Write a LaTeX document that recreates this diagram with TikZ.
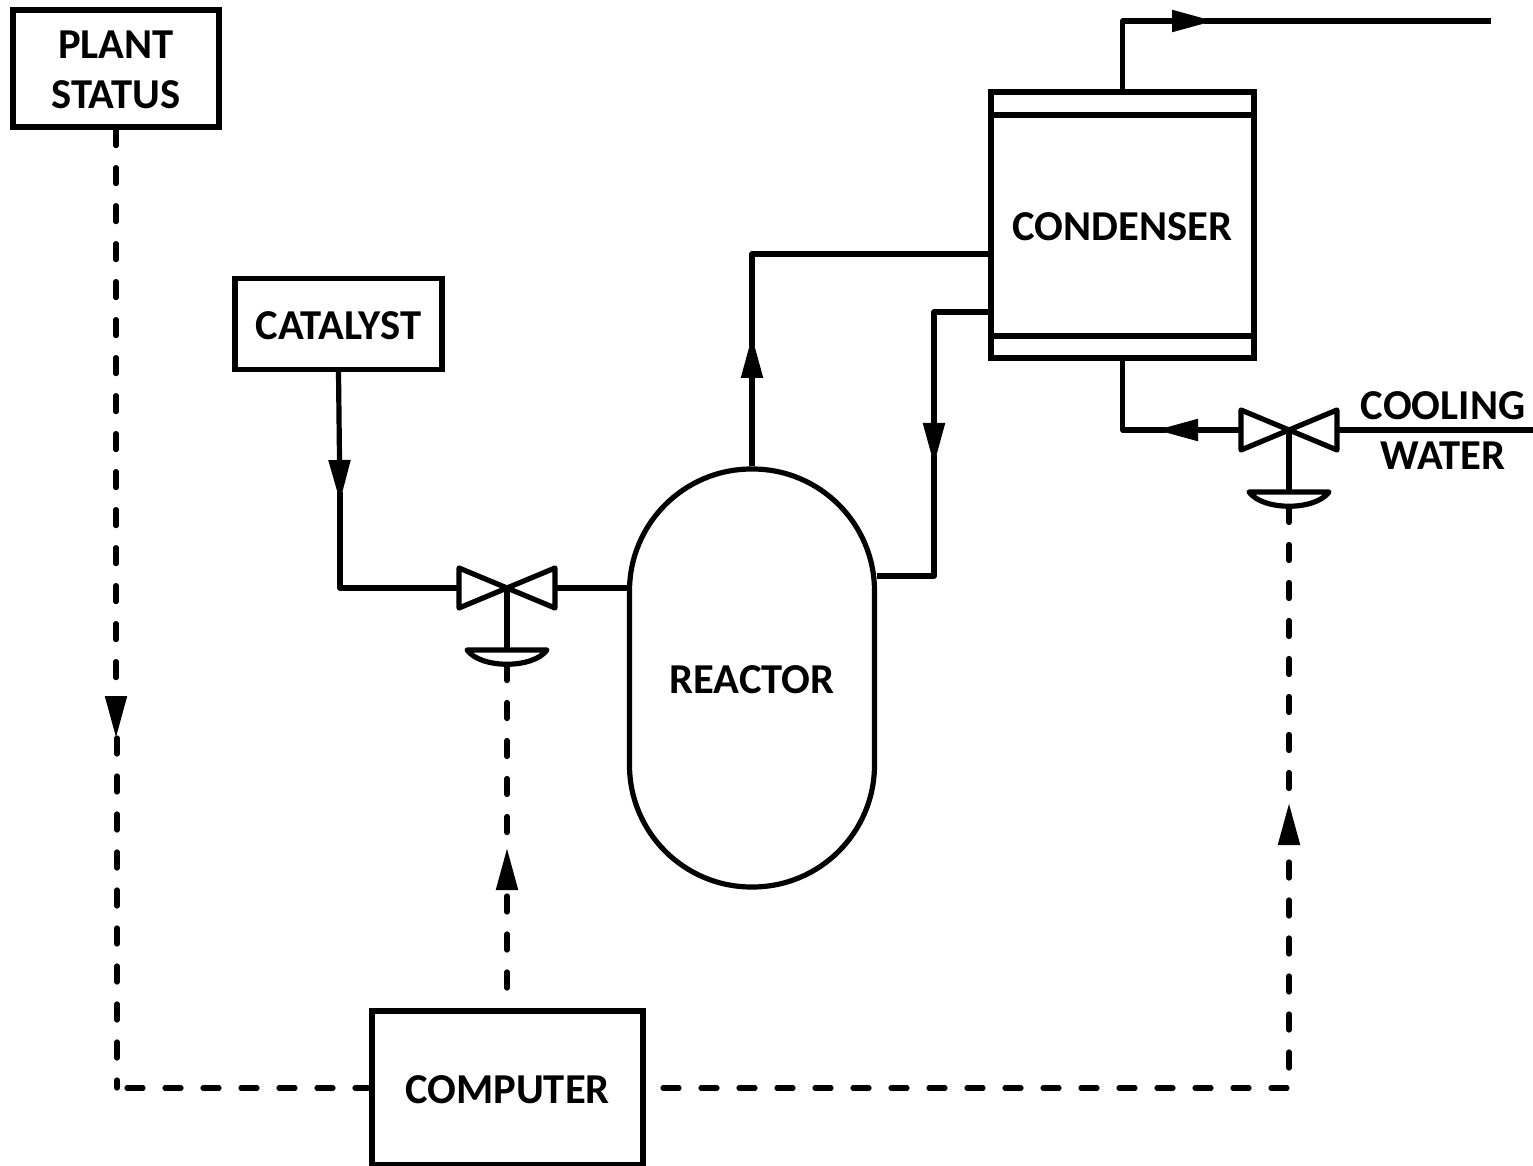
\documentclass[tikz,border=0pt]{standalone}
\usepackage{fontspec}
\setmainfont{Carlito}
\usetikzlibrary{arrows.meta}
\tikzset{
  box/.style={draw,line width=2.6pt,align=center,inner sep=0pt,text height=15.5pt},
  pipe/.style={line width=2.6pt,line join=round},
  signal/.style={line width=2.6pt,line join=round,line cap=round,dash pattern=on 8pt off 11pt},
  flow/.style={-{Triangle[width=10.5pt,length=21pt]}},
  onward/.style={shorten <=-5pt},
  pics/valve/.style={code={
    \draw[pipe] (-48,-20) -- (48,20) -- (48,-20) -- (-48,20) -- cycle;
    \draw[pipe] (0,0) -- (0,62);
    \draw[pipe] (-40,62) -- (40,62) .. controls (26,81) and (-26,81) .. (-40,62) -- cycle;
    \coordinate (-west) at (-48,0);
    \coordinate (-east) at (48,0);
    \coordinate (-stem) at (0,76.5);
  }},
}
\begin{document}
\begin{tikzpicture}[x=0.5pt,y=-0.5pt,every node/.style={font=\fontsize{21.3}{25}\selectfont\bfseries},>=stealth]
\useasboundingbox (0,0) rectangle (1533,1166);

\node[box,minimum width=103pt,minimum height=58.5pt,text height=40.3pt] (status) at (116,68.5) {PLANT\\STATUS};
\node[box,minimum width=103.5pt,minimum height=45.5pt] (catalyst) at (338.5,324) {CATALYST};
\node[box,minimum width=135.5pt,minimum height=77pt] (computer) at (507.5,1088) {COMPUTER};
\node[box,minimum width=122.5pt,minimum height=209pt,rounded corners=61pt] (reactor) at (752,678) {REACTOR};
\node[box,minimum width=131.5pt,minimum height=133pt] (condenser) at (1122.5,225) {CONDENSER};
\node[align=center] (water) at (1443,431) {COOLING\\WATER};
\draw[pipe] (991,115) -- (1254,115);
\draw[pipe] (991,336) -- (1254,336);

\pic (cv) at (507,588) {valve};
\pic (wv) at (1289,430) {valve};

\coordinate (catflow) at (340,502);
\coordinate (vapour) at (752,336);
\coordinate (vapourin) at (752,254);
\coordinate (refluxout) at (934,312);
\coordinate (reflux) at (934,465);
\coordinate (refluxin) at (934,576);
\coordinate (vent) at (1214,21);
\coordinate (ventend) at (1491,21);
\coordinate (waterin) at (1533,430);
\coordinate (waterflow) at (1156,430);
\coordinate (statusflow) at (117,738);
\coordinate (statuscorner) at (117,1088);
\coordinate (statusin) at (127,1088);
\coordinate (cvsig) at (507,848);
\coordinate (cvsigfrom) at (507,988);
\coordinate (wvsig) at (1289,803);
\coordinate (wvsigfrom) at (663,1088);

% process lines
\draw[pipe,flow] (catalyst.south) -- (catflow);
\draw[pipe,onward] (catflow) |- (cv-west);
\draw[pipe] (cv-east) -- (cv-east -| reactor.west);
\draw[pipe,flow] (reactor.north) -- (vapour);
\draw[pipe,onward] (vapour) |- (vapourin -| condenser.west);
\draw[pipe,flow] (refluxout -| condenser.west) -| (reflux);
\draw[pipe,onward] (reflux) |- (refluxin -| reactor.east);
\draw[pipe,flow] (condenser.north) |- (vent);
\draw[pipe,onward] (vent) -- (ventend);
\draw[pipe] (waterin) -- (wv-east);
\draw[pipe,flow] (wv-west) -- (waterflow);
\draw[pipe,onward] (waterflow) -| (condenser.south);

% signal lines
\draw[signal,flow] (status.south) -- (status.south |- statusflow);
\draw[signal] (statusflow) -- (statuscorner);
\draw[signal] (statusin) -- (statusin -| computer.west);
\draw[signal,flow] (cvsigfrom) -- (cvsig);
\draw[signal] (cv-stem) -- (cvsig);
\draw[signal,flow] (wvsigfrom) -| (wvsig);
\draw[signal] (wv-stem) -- (wvsig);
\end{tikzpicture}
\end{document}
